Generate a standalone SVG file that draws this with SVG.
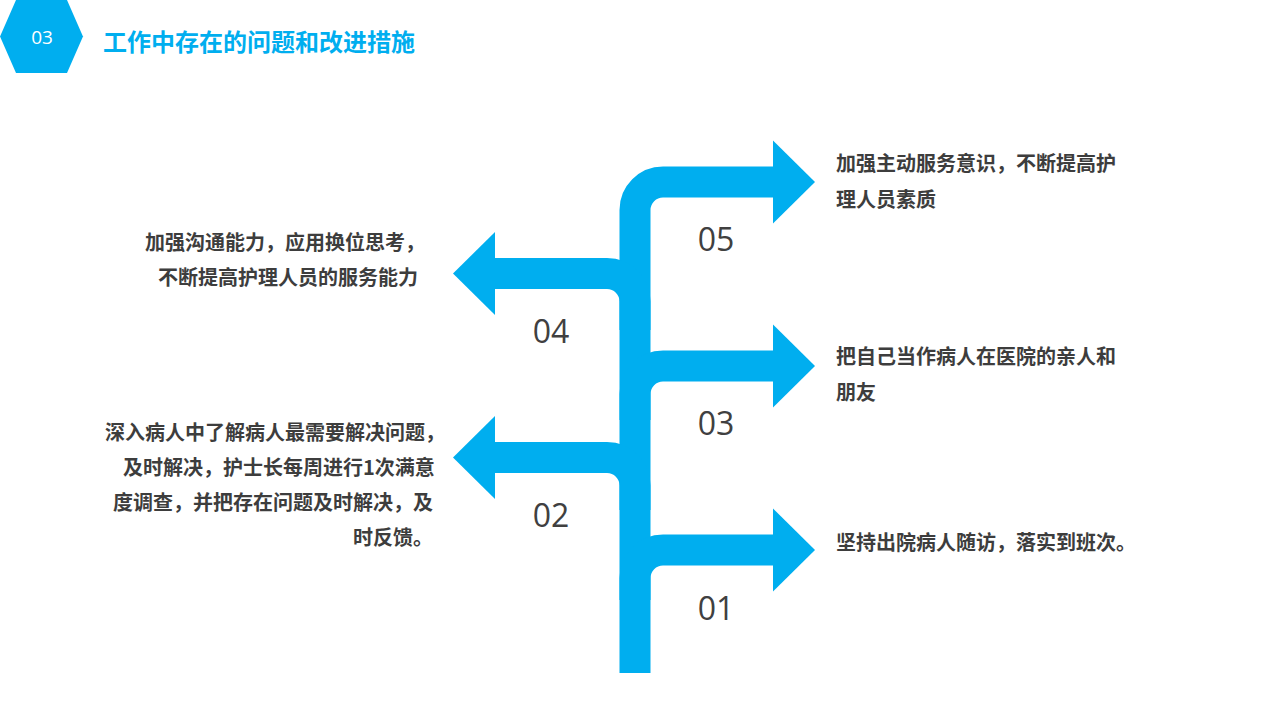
<svg xmlns="http://www.w3.org/2000/svg" width="1280" height="720" viewBox="0 0 1280 720">
  <style>
    .bar { fill: none; stroke: #00AEEF; stroke-width: 31; stroke-linecap: butt; stroke-linejoin: miter; }
    .head { fill: #00AEEF; }
    .num { font-family: "Open Sans", "Liberation Sans", sans-serif; font-size: 32px; fill: #404040; text-anchor: middle; }
    .txt { font-family: "Noto Sans CJK SC", "Noto Sans", sans-serif; font-size: 20px; font-weight: bold; fill: #3d3d3d; }
    .title { font-family: "Noto Sans CJK SC", "Noto Sans", sans-serif; font-size: 24px; font-weight: bold; fill: #00AEEF; }
  </style>
  <rect width="1280" height="720" fill="#ffffff"/>

  <g id="header">
    <polygon points="0,36.5 16,0 67,0 83,36.5 67,73 16,73" fill="#00AEEF"/>
    <text x="42" y="43.5" font-family="Open Sans, Liberation Sans, sans-serif" font-size="19" fill="#ffffff" text-anchor="middle">03</text>
    <text class="title" x="103" y="51">工作中存在的问题和改进措施</text>
  </g>

  <g id="connectors">
    <path class="bar" d="M635,673 V210 A28,28 0 0 1 663,182 H776"/>
  </g>

  <g id="node-05">
    <polygon class="head" points="773,140.5 815,182 773,223.5"/>
    <text class="num" x="716" y="251">05</text>
    <text class="txt" x="836" y="171">加强主动服务意识，不断提高护</text>
    <text class="txt" x="836" y="207">理人员素质</text>
  </g>

  <g id="node-04">
    <path class="bar" d="M635,330 V301.5 A28,28 0 0 0 607,273.5 H490"/>
    <polygon class="head" points="495,232 453,273.5 495,315"/>
    <text class="num" x="551" y="343">04</text>
    <text class="txt" x="145" y="250">加强沟通能力，应用换位思考，</text>
    <text class="txt" x="158" y="285">不断提高护理人员的服务能力</text>
  </g>

  <g id="node-03">
    <path class="bar" d="M635,420 V394 A28,28 0 0 1 663,366 H776"/>
    <polygon class="head" points="773,324.5 815,366 773,407.5"/>
    <text class="num" x="716" y="435">03</text>
    <text class="txt" x="836" y="364">把自己当作病人在医院的亲人和</text>
    <text class="txt" x="836" y="400">朋友</text>
  </g>

  <g id="node-02">
    <path class="bar" d="M635,510 V485.5 A28,28 0 0 0 607,457.5 H490"/>
    <polygon class="head" points="495,416 453,457.5 495,499"/>
    <text class="num" x="551" y="527">02</text>
    <text class="txt" x="105" y="440">深入病人中了解病人最需要解决问题，</text>
    <text class="txt" x="123" y="475">及时解决，护士长每周进行1次满意</text>
    <text class="txt" x="113" y="510">度调查，并把存在问题及时解决，及</text>
    <text class="txt" x="353" y="545">时反馈。</text>
  </g>

  <g id="node-01">
    <path class="bar" d="M635,600 V578 A28,28 0 0 1 663,550 H776"/>
    <polygon class="head" points="773,508.5 815,550 773,591.5"/>
    <text class="num" x="716" y="620">01</text>
    <text class="txt" x="836" y="550">坚持出院病人随访，落实到班次。</text>
  </g>
</svg>
